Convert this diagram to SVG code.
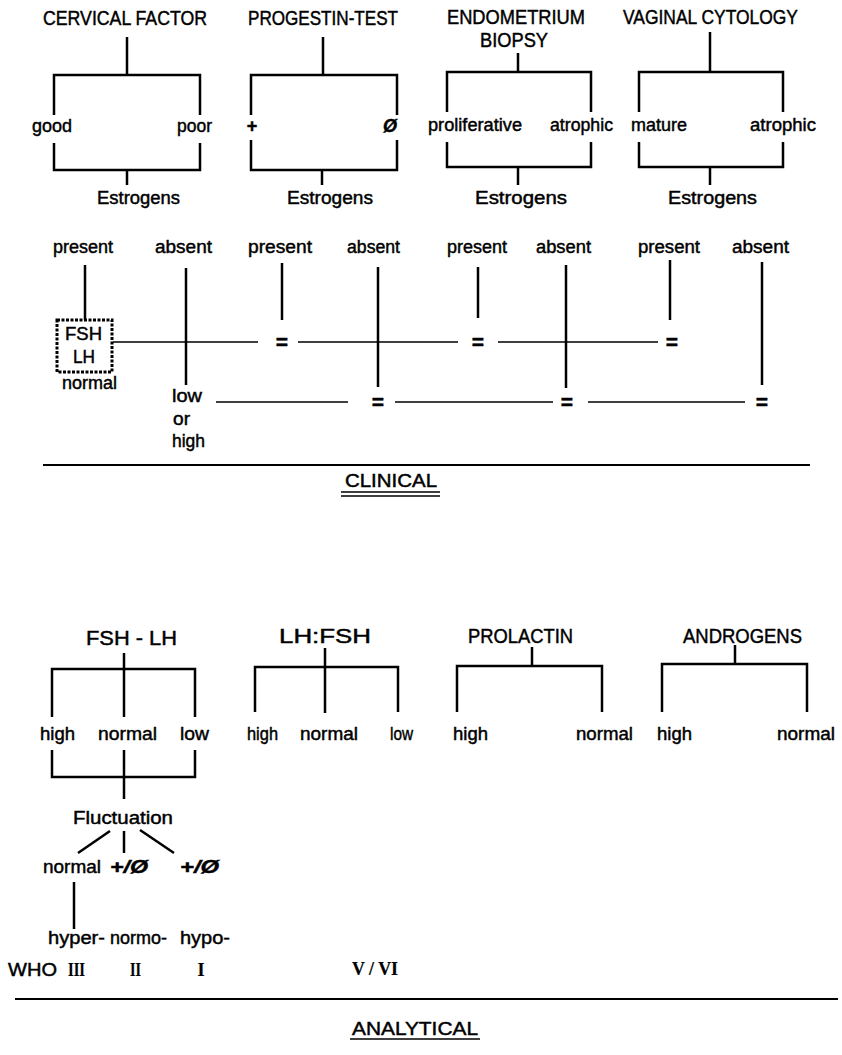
<svg xmlns="http://www.w3.org/2000/svg" width="842" height="1055" viewBox="0 0 842 1055">
<style>
text{font-family:"Liberation Sans",Arial,sans-serif;fill:#000;stroke:#000;stroke-width:0.45}
.h{font-size:20px}
.l{font-size:18px}
.s{font-family:"Liberation Serif","Times New Roman",serif;font-weight:bold;font-size:18px;stroke-width:0.2}
.eq{font-size:21px;font-weight:bold;text-anchor:middle}
.k{stroke:#000;stroke-width:2.5;fill:none}
.n{stroke:#000;stroke-width:1.6;fill:none}
.d{stroke:#000;stroke-width:2;fill:none}
</style>
<rect width="842" height="1055" fill="#fff"/>
<g id="connectors">
<path class="k" d="M127,37V75M54,115V75H200V115M54,143V170H200V143M127,170V185"/>
<path class="k" d="M323,37V75M251,115V75H397V115M251,140V170H397V140M322,170V185"/>
<path class="k" d="M518,53V72M447,112V72H591V112M447,142V167H591V142M518,167V185"/>
<path class="k" d="M710,32V72M639,112V72H783V112M639,142V167H783V142M710,167V185"/>
<path class="k" d="M85,265V320M186,268V385M282,263V320M378,267V387M478,267V318M566,265V388M670,260V320M762,262V385"/>
<path class="n" d="M113,342H258M298,342H458M498,342H658M216,402H348M395,402H553M588,402H745"/>
<path class="d" d="M43,465H810M15,999H838"/>
<path class="n" d="M341,492H440M341,496H440M350,1039H480"/>
<path class="k" d="M124,653V717M52,717V669H195V717M52,750V777H195V750M124,750V799"/>
<path class="k" d="M110,831L78,853M124,831V853M140,830L174,853M74,882V929"/>
<path class="k" d="M325,648V713M255,712V667H398V712"/>
<path class="k" d="M532,647V666M457,712V666H602V712"/>
<path class="k" d="M735,645V664M662,712V664H807V712"/>
</g>
<g id="cervical-factor"><text class="h" x="43" y="25" textLength="164" lengthAdjust="spacingAndGlyphs">CERVICAL FACTOR</text></g>
<g id="cf-good"><text class="l" x="32" y="132" textLength="40" lengthAdjust="spacingAndGlyphs">good</text></g>
<g id="cf-poor"><text class="l" x="177" y="132" textLength="35" lengthAdjust="spacingAndGlyphs">poor</text></g>
<g id="cf-estrogens"><text class="l" x="97" y="204" textLength="83" lengthAdjust="spacingAndGlyphs">Estrogens</text></g>
<g id="progestin-test"><text class="h" x="248" y="25" textLength="150" lengthAdjust="spacingAndGlyphs">PROGESTIN-TEST</text></g>
<g id="pt-plus"><text class="l" x="252" y="132" font-weight="bold" text-anchor="middle">+</text></g>
<g id="pt-null"><text class="l" x="390" y="132" font-weight="bold" font-style="italic" text-anchor="middle">Ø</text></g>
<g id="pt-estrogens"><text class="l" x="287" y="204" textLength="86" lengthAdjust="spacingAndGlyphs">Estrogens</text></g>
<g id="endometrium-biopsy"><text class="h" x="447" y="24" textLength="138" lengthAdjust="spacingAndGlyphs">ENDOMETRIUM</text><text class="h" x="480" y="47" textLength="68" lengthAdjust="spacingAndGlyphs">BIOPSY</text></g>
<g id="eb-proliferative"><text class="l" x="428" y="131" textLength="94" lengthAdjust="spacingAndGlyphs">proliferative</text></g>
<g id="eb-atrophic"><text class="l" x="550" y="131" textLength="63" lengthAdjust="spacingAndGlyphs">atrophic</text></g>
<g id="eb-estrogens"><text class="l" x="475" y="204" textLength="92" lengthAdjust="spacingAndGlyphs">Estrogens</text></g>
<g id="vaginal-cytology"><text class="h" x="623" y="24" textLength="175" lengthAdjust="spacingAndGlyphs">VAGINAL CYTOLOGY</text></g>
<g id="vc-mature"><text class="l" x="631" y="131" textLength="56" lengthAdjust="spacingAndGlyphs">mature</text></g>
<g id="vc-atrophic"><text class="l" x="750" y="131" textLength="66" lengthAdjust="spacingAndGlyphs">atrophic</text></g>
<g id="vc-estrogens"><text class="l" x="668" y="204" textLength="89" lengthAdjust="spacingAndGlyphs">Estrogens</text></g>
<g id="present-1"><text class="l" x="53" y="253" textLength="60" lengthAdjust="spacingAndGlyphs">present</text></g>
<g id="absent-1"><text class="l" x="155" y="253" textLength="57" lengthAdjust="spacingAndGlyphs">absent</text></g>
<g id="present-2"><text class="l" x="248" y="253" textLength="64" lengthAdjust="spacingAndGlyphs">present</text></g>
<g id="absent-2"><text class="l" x="347" y="253" textLength="53" lengthAdjust="spacingAndGlyphs">absent</text></g>
<g id="present-3"><text class="l" x="447" y="253" textLength="60" lengthAdjust="spacingAndGlyphs">present</text></g>
<g id="absent-3"><text class="l" x="536" y="253" textLength="55" lengthAdjust="spacingAndGlyphs">absent</text></g>
<g id="present-4"><text class="l" x="638" y="253" textLength="62" lengthAdjust="spacingAndGlyphs">present</text></g>
<g id="absent-4"><text class="l" x="732" y="253" textLength="57" lengthAdjust="spacingAndGlyphs">absent</text></g>
<g id="fsh-lh-box">
<rect x="57" y="320" width="55" height="52" fill="none" stroke="#000" stroke-width="3" stroke-dasharray="3 1.5"/>
<text class="l" x="65" y="340" textLength="37" lengthAdjust="spacingAndGlyphs">FSH</text>
<text class="l" x="73" y="363" textLength="22" lengthAdjust="spacingAndGlyphs">LH</text>
<text class="l" x="62" y="389" textLength="55" lengthAdjust="spacingAndGlyphs">normal</text>
</g>
<g id="low-or-high">
<text class="l" x="172" y="402" textLength="30" lengthAdjust="spacingAndGlyphs">low</text>
<text class="l" x="173" y="425" textLength="17" lengthAdjust="spacingAndGlyphs">or</text>
<text class="l" x="172" y="447" textLength="33" lengthAdjust="spacingAndGlyphs">high</text>
</g>
<g id="equals">
<text class="eq" x="282" y="349">=</text>
<text class="eq" x="478" y="349">=</text>
<text class="eq" x="672" y="349">=</text>
<text class="eq" x="378" y="409">=</text>
<text class="eq" x="567" y="409">=</text>
<text class="eq" x="762" y="409">=</text>
</g>
<g id="clinical"><text class="l" x="345" y="487" textLength="92" lengthAdjust="spacingAndGlyphs">CLINICAL</text></g>
<g id="fsh-lh"><text class="h" x="86" y="645" textLength="91" lengthAdjust="spacingAndGlyphs">FSH - LH</text></g>
<g id="fl-high"><text class="l" x="40" y="740" textLength="35" lengthAdjust="spacingAndGlyphs">high</text></g>
<g id="fl-normal"><text class="l" x="98" y="740" textLength="59" lengthAdjust="spacingAndGlyphs">normal</text></g>
<g id="fl-low"><text class="l" x="180" y="740" textLength="29" lengthAdjust="spacingAndGlyphs">low</text></g>
<g id="fluctuation"><text class="l" x="73" y="824" textLength="100" lengthAdjust="spacingAndGlyphs">Fluctuation</text></g>
<g id="fu-normal"><text class="l" x="43" y="873" textLength="58" lengthAdjust="spacingAndGlyphs">normal</text></g>
<g id="fu-pm1"><text class="l" x="110" y="873" font-weight="bold" font-style="italic" textLength="38" lengthAdjust="spacingAndGlyphs">+/Ø</text></g>
<g id="fu-pm2"><text class="l" x="180" y="873" font-weight="bold" font-style="italic" textLength="39" lengthAdjust="spacingAndGlyphs">+/Ø</text></g>
<g id="hyper"><text class="l" x="48" y="944" textLength="57" lengthAdjust="spacingAndGlyphs">hyper-</text></g>
<g id="normo"><text class="l" x="110" y="944" textLength="57" lengthAdjust="spacingAndGlyphs">normo-</text></g>
<g id="hypo"><text class="l" x="180" y="944" textLength="50" lengthAdjust="spacingAndGlyphs">hypo-</text></g>
<g id="who">
<text class="l" x="8" y="976" textLength="49" lengthAdjust="spacingAndGlyphs">WHO</text>
<text class="s" x="68" y="976" textLength="17" lengthAdjust="spacingAndGlyphs">III</text>
<text class="s" x="130" y="976" textLength="11" lengthAdjust="spacingAndGlyphs">II</text>
<text class="s" x="201" y="976" text-anchor="middle">I</text>
</g>
<g id="v-vi"><text class="s" x="352" y="975" textLength="46" lengthAdjust="spacingAndGlyphs">V / VI</text></g>
<g id="lh-fsh"><text class="h" x="279" y="643" textLength="92" lengthAdjust="spacingAndGlyphs">LH:FSH</text></g>
<g id="lf-high"><text class="l" x="247" y="740" textLength="31" lengthAdjust="spacingAndGlyphs">high</text></g>
<g id="lf-normal"><text class="l" x="300" y="740" textLength="58" lengthAdjust="spacingAndGlyphs">normal</text></g>
<g id="lf-low"><text class="l" x="390" y="740" textLength="23" lengthAdjust="spacingAndGlyphs">low</text></g>
<g id="prolactin"><text class="h" x="468" y="643" textLength="105" lengthAdjust="spacingAndGlyphs">PROLACTIN</text></g>
<g id="pr-high"><text class="l" x="453" y="740" textLength="35" lengthAdjust="spacingAndGlyphs">high</text></g>
<g id="pr-normal"><text class="l" x="576" y="740" textLength="57" lengthAdjust="spacingAndGlyphs">normal</text></g>
<g id="androgens"><text class="h" x="683" y="643" textLength="119" lengthAdjust="spacingAndGlyphs">ANDROGENS</text></g>
<g id="an-high"><text class="l" x="657" y="740" textLength="35" lengthAdjust="spacingAndGlyphs">high</text></g>
<g id="an-normal"><text class="l" x="777" y="740" textLength="58" lengthAdjust="spacingAndGlyphs">normal</text></g>
<g id="analytical"><text class="l" x="352" y="1035" textLength="126" lengthAdjust="spacingAndGlyphs">ANALYTICAL</text></g>
</svg>
